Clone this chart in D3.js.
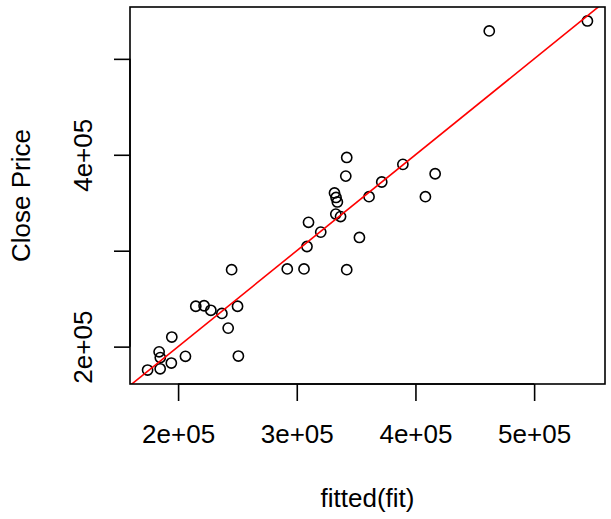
<!DOCTYPE html>
<html>
<head>
<meta charset="utf-8">
<script src="https://cdn.jsdelivr.net/npm/d3@7"></script>
<style>
  html, body { margin: 0; padding: 0; background: #fff; }
  text { font-family: "Liberation Sans", Arial, Helvetica, sans-serif; fill: #000; }
</style>
</head>
<body>
<svg id="chart" width="611" height="519"></svg>
<script>
// fitted values (x) and observed close prices (y)
const fittedValues = [462200, 544900, 342100, 341300, 389400, 416600, 371600, 360900, 408400,
  331800, 333100, 334200, 332900, 336900,
  245100, 292000, 306100, 342100, 309900, 320200, 308600, 352800,
  214900, 221900, 227600, 236900, 250100, 242200, 194700, 184000, 185000, 206200, 250800, 194300, 184900, 174300];
const closePrices = [529100, 539500, 397200, 377800, 390000, 380200, 371600, 356300, 356300,
  360200, 355500, 350800, 338200, 335600,
  280200, 281000, 281000, 280200, 329600, 319400, 304400, 313800,
  242100, 242600, 237900, 234600, 242100, 219300, 210000, 194600, 188600, 189900, 190200, 182900, 176900, 175600];
const xTicks = [200000, 300000, 400000, 500000];
const xTickLabels = ["2e+05", "3e+05", "4e+05", "5e+05"];
const yTicks = [200000, 300000, 400000, 500000];
const yTickLabels = ["2e+05", "", "4e+05", ""];
const xTitle = "fitted(fit)";
const yTitle = "Close Price";

(function () {
const svg = d3.select("#chart");
const pL = 130, pR = 605, pT = 7, pB = 384;

function padded(arr) {
  const [mn, mx] = d3.extent(arr);
  const r = mx - mn;
  return [mn - 0.04 * r, mx + 0.04 * r];
}
const x = d3.scaleLinear().domain(padded(fittedValues)).range([pL, pR]);
const y = d3.scaleLinear().domain(padded(closePrices)).range([pB, pT]);

svg.append("defs").append("clipPath").attr("id", "clip")
  .append("rect").attr("x", pL).attr("y", pT).attr("width", pR - pL).attr("height", pB - pT);

// points
svg.append("g").selectAll("circle")
  .data(fittedValues.map((v, i) => [v, closePrices[i]]))
  .join("circle")
  .attr("cx", d => x(d[0]))
  .attr("cy", d => y(d[1]))
  .attr("r", 5.1)
  .attr("fill", "none")
  .attr("stroke", "#000")
  .attr("stroke-width", 1.6);

// abline y = x
const lo = Math.min(x.domain()[0], y.domain()[0]);
const hi = Math.max(x.domain()[1], y.domain()[1]);
svg.append("line")
  .attr("clip-path", "url(#clip)")
  .attr("x1", x(lo)).attr("y1", y(lo))
  .attr("x2", x(hi)).attr("y2", y(hi))
  .attr("stroke", "#ff0000").attr("stroke-width", 1.6);

// box
svg.append("rect")
  .attr("x", pL).attr("y", pT).attr("width", pR - pL).attr("height", pB - pT)
  .attr("fill", "none").attr("stroke", "#000").attr("stroke-width", 1.6);

// x axis
const xAxis = d3.axisBottom(x).tickValues(xTicks)
  .tickFormat((d, i) => xTickLabels[i]).tickSizeOuter(0).tickSizeInner(17).tickPadding(24);
const gx = svg.append("g").attr("transform", `translate(0,${pB})`).call(xAxis);
gx.select(".domain").attr("d", `M${x(xTicks[0])},0H${x(xTicks[xTicks.length - 1])}`)
  .attr("stroke-width", 1.6);
gx.selectAll(".tick line").attr("stroke-width", 1.6);
gx.selectAll(".tick text").attr("font-size", 26).attr("font-family", "Liberation Sans, Arial, sans-serif");

// y axis
const yAxis = d3.axisLeft(y).tickValues(yTicks)
  .tickFormat((d, i) => yTickLabels[i]).tickSizeOuter(0).tickSizeInner(16).tickPadding(0);
const gy = svg.append("g").attr("transform", `translate(${pL},0)`).call(yAxis);
gy.select(".domain").attr("d", `M0,${y(yTicks[0])}V${y(yTicks[yTicks.length - 1])}`)
  .attr("stroke-width", 1.6);
gy.selectAll(".tick line").attr("stroke-width", 1.6);
gy.selectAll(".tick text")
  .attr("font-size", 26).attr("font-family", "Liberation Sans, Arial, sans-serif")
  .attr("x", null).attr("dy", null)
  .attr("text-anchor", "middle")
  .attr("transform", `translate(${91.5 - pL},0) rotate(-90)`);

// titles
svg.append("text")
  .attr("x", (pL + pR) / 2).attr("y", 506.5)
  .attr("text-anchor", "middle").attr("font-size", 26)
  .text(xTitle);
svg.append("text")
  .attr("transform", `translate(29.5,${(pT + pB) / 2}) rotate(-90)`)
  .attr("text-anchor", "middle").attr("font-size", 26)
  .text(yTitle);
})();
</script>
</body>
</html>
